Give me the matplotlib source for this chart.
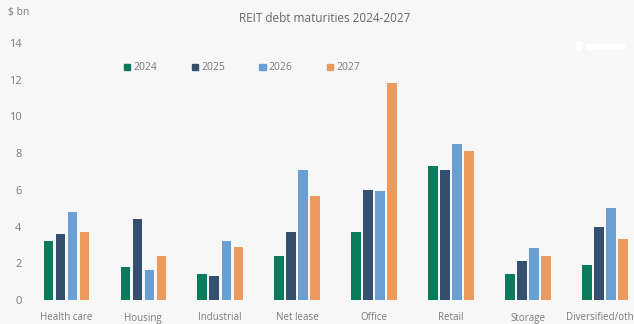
import matplotlib.pyplot as plt
import matplotlib.patches as mpatches
import numpy as np

plt.rcParams['font.family'] = ['Open Sans', 'DejaVu Sans']

# 数据
categories = ['Health care', 'Housing', 'Industrial', 'Net lease',
              'Office', 'Retail', 'Storage', 'Diversified/other']
years = ['2024', '2025', '2026', '2027']
v2024 = [3.2, 1.8, 1.4, 2.4, 3.7, 7.3, 1.4, 1.9]
v2025 = [3.6, 4.4, 1.3, 3.7, 6.0, 7.1, 2.1, 4.0]
v2026 = [4.8, 1.65, 3.2, 7.1, 5.95, 8.5, 2.85, 5.0]
v2027 = [3.7, 2.4, 2.9, 5.65, 11.8, 8.1, 2.4, 3.3]
yticks = [0, 2, 4, 6, 8, 10, 12, 14]

colors = ['#0a7a5c', '#34506e', '#6a9fd3', '#ec9a5e']
bg = '#f7f7f7'
txt = '#7a7a7a'

W, H = 634, 324
fig = plt.figure(figsize=(W / 100, H / 100), dpi=100, facecolor=bg)
# 轴区域（像素）
left, right, bottom, top = 30, 634, 300, 43
ax = fig.add_axes([left / W, 1 - bottom / H, (right - left) / W, (bottom - top) / H])
ax.set_facecolor(bg)

x = np.arange(len(categories))
width = 0.12
step = 0.156
series = [v2024, v2025, v2026, v2027]
for i, vals in enumerate(series):
    ax.bar(x + (i - 1.5) * step, vals, width, color=colors[i], label=years[i], zorder=3)

# 每组下方的浅色基线
ax.hlines(np.zeros(len(x)), x - 0.43, x + 0.43, color='#dcdcdc', linewidth=0.8, zorder=2)

ax.set_xlim(-0.47, 7.377)
ax.set_ylim(0, 14)
ax.set_yticks(yticks)
ax.set_xticks(x)
ax.set_xticklabels(categories)
ax.tick_params(axis='both', length=0, colors=txt, labelsize=7)
ax.tick_params(axis='y', pad=6, labelsize=8)
ax.tick_params(axis='x', pad=9)
for s in ax.spines.values():
    s.set_visible(False)

fig.text(325 / W, 1 - 19 / H, 'REIT debt maturities 2024-2027', ha='center', va='center',
         fontsize=8.5, color='#666666')
fig.text(8 / W, 1 - 13 / H, '$ bn', ha='left', va='center', fontsize=7.5, color=txt)

handles = [mpatches.Patch(color=c, label=y) for c, y in zip(colors, years)]
fig.legend(handles=handles, ncol=4, loc='center left', bbox_to_anchor=(119 / W, 1 - 68 / H),
           frameon=False, fontsize=7.5, handlelength=0.6, handleheight=0.6,
           handletextpad=0.3, columnspacing=3.3, labelcolor=txt, borderpad=0)

# 右上角的白色小块
fig.patches.append(mpatches.Rectangle((576 / W, 1 - 50 / H), 5 / W, 9 / H,
                                      transform=fig.transFigure, color='white'))
fig.patches.append(mpatches.Rectangle((586 / W, 1 - 49 / H), 38 / W, 5 / H,
                                      transform=fig.transFigure, color='white'))

plt.savefig('out.png', dpi=100, facecolor=bg)
